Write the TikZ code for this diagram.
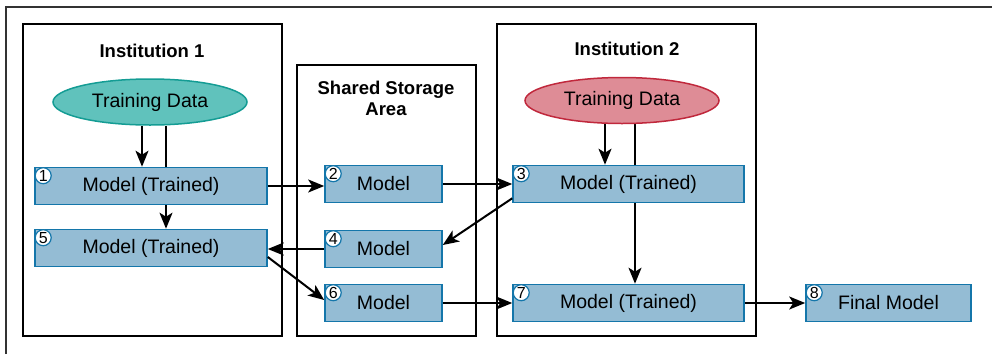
\documentclass[tikz,border=0pt]{standalone}
\usepackage{fontspec}
\setmainfont{Liberation Sans}
\usepackage{tikz}
\usetikzlibrary{arrows.meta,positioning,backgrounds,shapes.geometric}
\usepackage{xcolor}
\definecolor{modelblue}{RGB}{148,188,212}
\definecolor{modeledge}{RGB}{20,118,170}
\definecolor{datateal}{RGB}{96,194,188}
\definecolor{tealedge}{RGB}{20,156,148}
\definecolor{datared}{RGB}{222,140,150}
\definecolor{rededge}{RGB}{192,40,60}

\begin{document}
\begin{tikzpicture}[x=1pt,y=-1pt,
    frame/.style={draw=black,line width=2pt},
    title/.style={font=\fontsize{18.5}{21}\selectfont\bfseries,align=center},
    model/.style={draw=modeledge,fill=modelblue,line width=1.6pt,
      font=\fontsize{19.5}{22}\selectfont,minimum height=37pt,inner sep=0pt},
    data/.style={ellipse,line width=1.5pt,minimum width=194pt,minimum height=46pt,
      inner sep=0pt,font=\fontsize{19.5}{22}\selectfont},
    num/.style={circle,draw=modeledge,fill=white,line width=1.2pt,minimum size=16pt,
      inner sep=0pt,font=\fontsize{16}{16}\selectfont},
    arr/.style={line width=2pt,-{Stealth[length=16pt,width=13pt,inset=4pt]}}]
    \useasboundingbox (0,0) rectangle (992,354);
    \draw[line width=1.5pt,black!80] (6,354) -- (6,7) -- (992,7);

    % the three areas
    \draw[frame] (23,24) rectangle (282,336);
    \draw[frame] (297,65) rectangle (476,336);
    \draw[frame] (497,24) rectangle (756,336);
    \node[title] (inst1) at (152,51) {Institution 1};
    \node[title] (store) at (386,98) {Shared Storage\\Area};
    \node[title] (inst2) at (627,49) {Institution 2};

    % training data
    \node[data,draw=tealedge,fill=datateal] (td1) at (150,102) {Training Data};
    \node[data,draw=rededge,fill=datared] (td2) at (622,100.5) {Training Data};

    % models
    \node[model,minimum width=232pt] (m1) at (151,186) {Model (Trained)};
    \node[model,minimum width=232pt] (m5) at (151,248) {Model (Trained)};
    \node[model,minimum width=117pt] (m2) at (383.5,184) {Model};
    \node[model,minimum width=117pt] (m4) at (383.5,249) {Model};
    \node[model,minimum width=117pt] (m6) at (383.5,303) {Model};
    \node[model,minimum width=231pt] (m3) at (628.5,184) {Model (Trained)};
    \node[model,minimum width=231pt] (m7) at (628.5,303) {Model (Trained)};
    \node[model,minimum width=165pt] (m8) at (888.5,303) {Final Model};

    \foreach \m in {1,...,8}
      \node[num] (c\m) at ([shift={(9pt,-9pt)}]m\m.north west) {\m};

    % data lines running behind the first model
    \begin{scope}[on background layer]
      \draw[arr] ([xshift=16pt]td1.south) -- ([xshift=16pt]td1.south |- m5.north);
      \draw[arr] ([xshift=13pt]td2.south) -- ([xshift=13pt]td2.south |- m7.north);
    \end{scope}
    \draw[arr] ([xshift=-8pt]td1.south) -- ([xshift=-8pt]td1.south |- m1.north);
    \draw[arr] ([xshift=-17pt]td2.south) -- ([xshift=-17pt]td2.south |- m3.north);

    % exchange through the storage area
    \draw[arr] (m1.east) -- (m1.east -| m2.west);
    \draw[arr] (m2.east) -- (m2.east -| m3.west);
    \draw[arr] ([yshift=5pt]m3.south west) -- ([yshift=4pt]m4.east);
    \draw[arr] (m4.west) -- (m4.west -| m5.east);
    \draw[arr] ([yshift=-9pt]m5.east) -- ([yshift=3pt]m6.west);
    \draw[arr] (m6.east) -- (m6.east -| m7.west);
    \draw[arr] (m7.east) -- (m8.west);
  \end{tikzpicture}
\end{document}
